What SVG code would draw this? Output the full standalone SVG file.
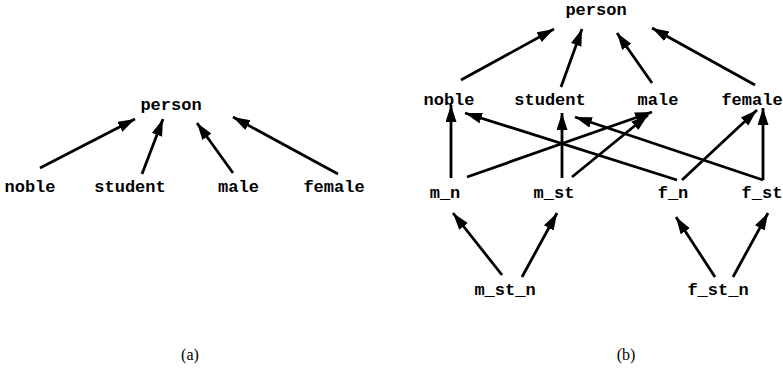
<svg xmlns="http://www.w3.org/2000/svg" width="783" height="370" viewBox="0 0 783 370">
<style>
.n{font-family:"Liberation Mono","DejaVu Sans Mono",monospace;font-weight:bold;font-size:17px;fill:#000;text-anchor:middle}
.c{font-family:"Liberation Serif","DejaVu Serif",serif;font-size:16px;fill:#000;text-anchor:middle}
.e{stroke:#000;stroke-width:2.8;fill:none;marker-end:url(#ah)}
</style>
<defs>
<marker id="ah" markerUnits="userSpaceOnUse" markerWidth="18" markerHeight="12" refX="17" refY="5.5" orient="auto">
<path d="M0,0 L17,5.5 L0,11 z" fill="#000"/>
</marker>
</defs>
<rect width="783" height="370" fill="#fff"/>
<g id="connectors">
<line class="e" x1="40" y1="168" x2="135" y2="119"/>
<line class="e" x1="142" y1="174" x2="163" y2="119"/>
<line class="e" x1="233" y1="173" x2="197" y2="123"/>
<line class="e" x1="338" y1="174" x2="233" y2="117"/>
<line class="e" x1="461" y1="80" x2="554" y2="29"/>
<line class="e" x1="561" y1="87" x2="582" y2="29"/>
<line class="e" x1="652" y1="83" x2="617" y2="33"/>
<line class="e" x1="755" y1="85" x2="652" y2="28"/>
<line class="e" x1="451" y1="178" x2="451" y2="105"/>
<line class="e" x1="467" y1="177" x2="652" y2="112"/>
<line class="e" x1="562" y1="178" x2="562" y2="113"/>
<line class="e" x1="572" y1="177" x2="648" y2="115"/>
<line class="e" x1="677" y1="180" x2="465" y2="113"/>
<line class="e" x1="682" y1="180" x2="757" y2="110"/>
<line class="e" x1="763" y1="180" x2="575" y2="117"/>
<line class="e" x1="763" y1="180" x2="763" y2="108"/>
<line class="e" x1="502" y1="275" x2="453" y2="213"/>
<line class="e" x1="522" y1="277" x2="557" y2="213"/>
<line class="e" x1="715" y1="277" x2="676" y2="217"/>
<line class="e" x1="733" y1="277" x2="768" y2="213"/>
</g>
<g id="a-person"><text class="n" x="171" y="110">person</text></g>
<g id="a-noble"><text class="n" x="30" y="192">noble</text></g>
<g id="a-student"><text class="n" x="130" y="192">student</text></g>
<g id="a-male"><text class="n" x="238.5" y="192">male</text></g>
<g id="a-female"><text class="n" x="334" y="192">female</text></g>
<g id="b-person"><text class="n" x="596" y="15">person</text></g>
<g id="b-noble"><text class="n" x="449" y="105">noble</text></g>
<g id="b-student"><text class="n" x="550" y="105">student</text></g>
<g id="b-male"><text class="n" x="658" y="105">male</text></g>
<g id="b-female"><text class="n" x="752" y="105">female</text></g>
<g id="b-m_n"><text class="n" x="445" y="198">m_n</text></g>
<g id="b-m_st"><text class="n" x="554" y="198">m_st</text></g>
<g id="b-f_n"><text class="n" x="673" y="198">f_n</text></g>
<g id="b-f_st"><text class="n" x="762" y="198">f_st</text></g>
<g id="b-m_st_n"><text class="n" x="505" y="295">m_st_n</text></g>
<g id="b-f_st_n"><text class="n" x="718" y="295">f_st_n</text></g>
<g id="captions">
<text class="c" x="190" y="360">(a)</text>
<text class="c" x="626" y="360">(b)</text>
</g>
</svg>
